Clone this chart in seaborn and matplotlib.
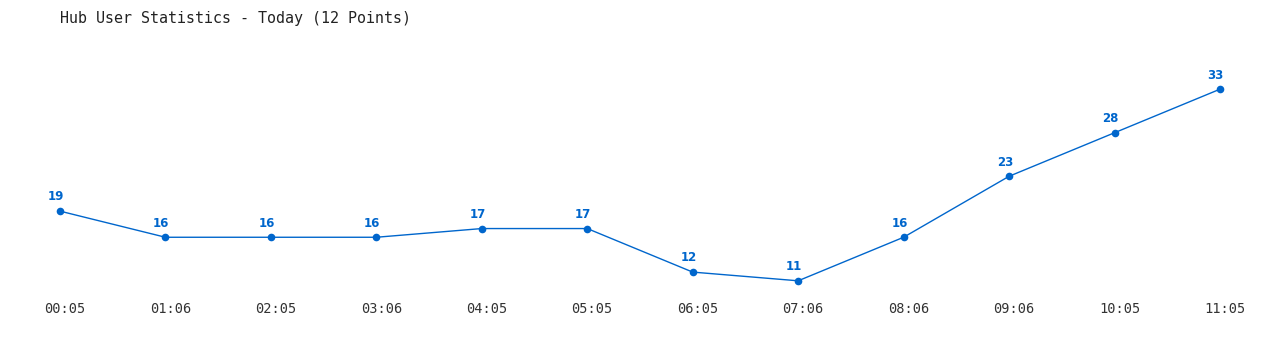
import matplotlib
matplotlib.use("Agg")
import matplotlib.pyplot as plt
import matplotlib.transforms as mtransforms
import seaborn as sns
import pandas as pd

times = ["00:05", "01:06", "02:05", "03:06", "04:05", "05:05",
         "06:05", "07:06", "08:06", "09:06", "10:05", "11:05"]
users = [19, 16, 16, 16, 17, 17, 12, 11, 16, 23, 28, 33]
title = "Hub User Statistics - Today (12 Points)"

sns.set_theme(style="white")
plt.rcParams['font.family'] = ['DejaVu Sans Mono', 'DejaVu Sans']

df = pd.DataFrame({"idx": range(len(times)), "users": users})
color = "#0066cc"

fig = plt.figure(figsize=(12.8, 3.5), dpi=100)
ax = fig.add_axes([0, 55/350, 1, 255/350])
sns.lineplot(data=df, x="idx", y="users", ax=ax, color=color, linewidth=1,
             marker="o", markersize=5.5, markeredgewidth=0)
for i, v in enumerate(users):
    ax.annotate(str(v), (i, v), xytext=(-3, 5.5), textcoords="offset points",
                ha="center", va="bottom", fontsize=8.5, fontweight="bold",
                color=color, family="DejaVu Sans")
ax.set_xlim(-60/105.45, (1280-60)/105.45)
ax.set_ylim(9.37, 38.65)
ax.set_xticks(range(len(times)))
ax.set_xticklabels(times, fontsize=9.8, color="#333333")
ax.set_yticks([])
ax.tick_params(axis="x", length=0, pad=5)
offset = mtransforms.ScaledTranslation(5/100, 0, fig.dpi_scale_trans)
for lbl in ax.get_xticklabels():
    lbl.set_transform(lbl.get_transform() + offset)
ax.set_xlabel("")
ax.set_ylabel("")
for s in ax.spines.values():
    s.set_visible(False)
fig.text(60/1280, 1-18/350, title, fontsize=10.8, color="#222222",
         ha="left", va="center")
fig.savefig("out.png", dpi=100)
